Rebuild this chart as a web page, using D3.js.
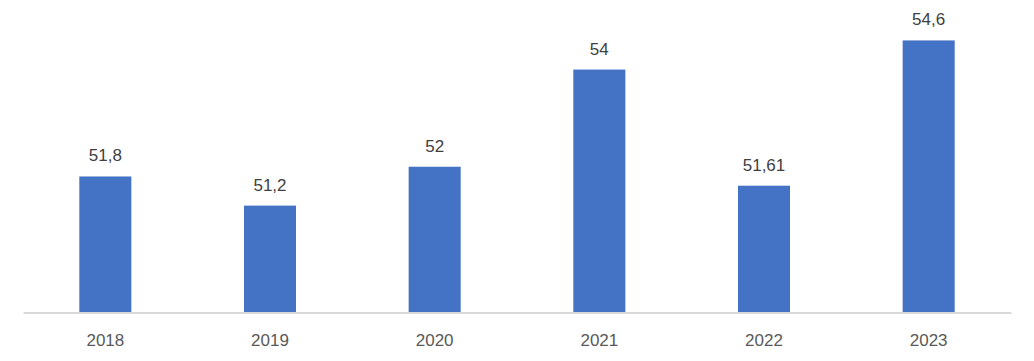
<!DOCTYPE html>
<html>
<head>
<meta charset="utf-8">
<script src="https://cdn.jsdelivr.net/npm/d3@7"></script>
<style>
  body { margin: 0; background: #fff; }
  text { font-family: "Liberation Sans", Arial, sans-serif; }
</style>
</head>
<body>
<div id="chart"></div>
<script>

var years = ["2018", "2019", "2020", "2021", "2022", "2023"];
var values = [51.8, 51.2, 52, 54, 51.61, 54.6];
var valueLabels = ["51,8", "51,2", "52", "54", "51,61", "54,6"];

var width = 1034;
var height = 361;
var margin = {top: 21, right: 23, bottom: 48.5, left: 23};

var svg = d3.select("#chart")
  .append("svg")
  .attr("width", width)
  .attr("height", height);

var xScale = d3.scaleBand()
  .domain(years)
  .range([margin.left, width - margin.right])
  .paddingInner(0.684)
  .paddingOuter(0.342);

var yScale = d3.scaleLinear()
  .domain([49, 55])
  .range([height - margin.bottom, margin.top]);

var y0 = yScale(49);

svg.selectAll(".bar")
  .data(years)
  .enter()
  .append("rect")
  .attr("class", "bar")
  .attr("x", function(d) { return xScale(d); })
  .attr("y", function(d, i) { return yScale(values[i]); })
  .attr("width", xScale.bandwidth())
  .attr("height", function(d, i) { return y0 - yScale(values[i]); })
  .attr("fill", "#4472c4");

svg.selectAll(".val")
  .data(years)
  .enter()
  .append("text")
  .attr("class", "val")
  .attr("x", function(d) { return xScale(d) + xScale.bandwidth() / 2; })
  .attr("y", function(d, i) { return yScale(values[i]) - 15; })
  .attr("text-anchor", "middle")
  .attr("font-size", "17px")
  .attr("fill", "#404040")
  .text(function(d, i) { return valueLabels[i]; });

// x axis
var xAxis = svg.append("g")
  .attr("transform", "translate(0," + y0 + ")")
  .call(d3.axisBottom(xScale).tickSize(0).tickPadding(21));

xAxis.select(".domain")
  .attr("stroke", "#d9d9d9")
  .attr("stroke-width", 2);

xAxis.selectAll("text")
  .attr("font-size", "17px")
  .attr("fill", "#595959")
  .style("font-family", "Liberation Sans, Arial, sans-serif");

</script>
</body>
</html>
